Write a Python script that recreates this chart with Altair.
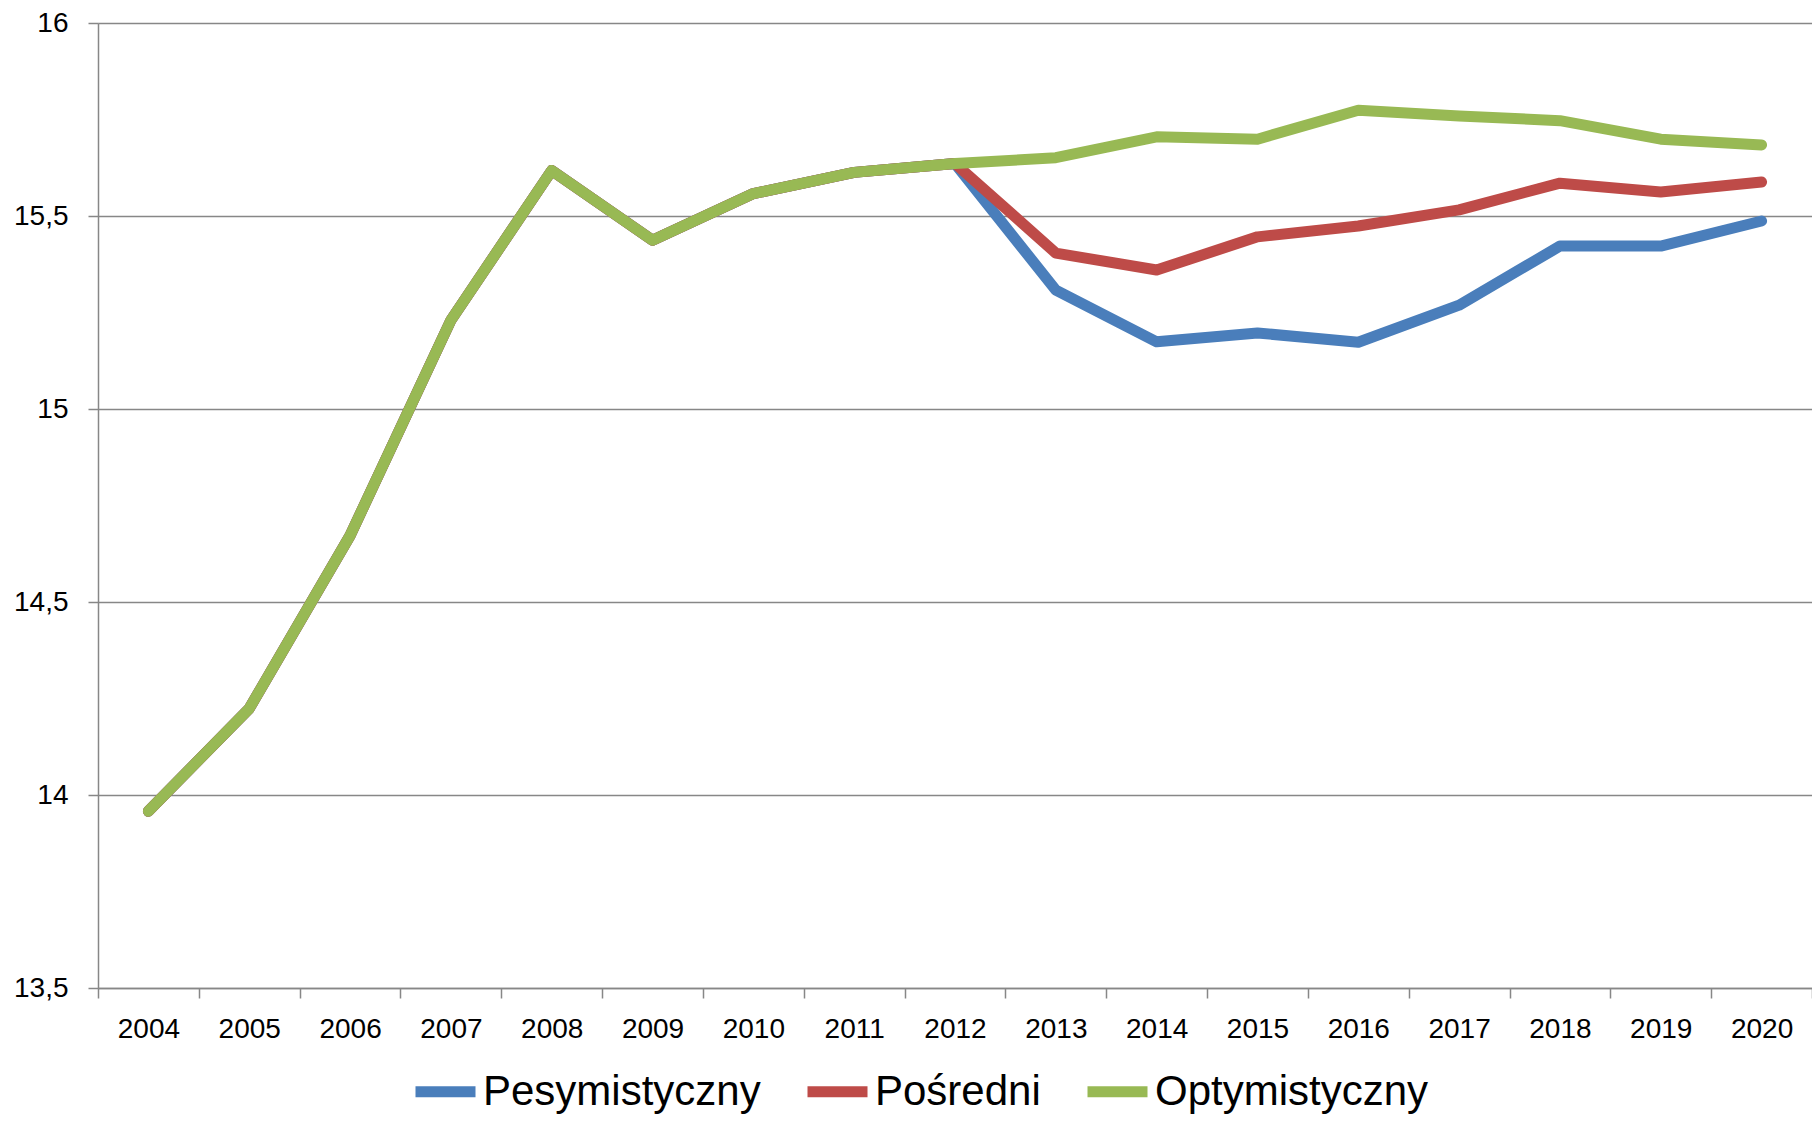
import altair as alt
import pandas as pd

years = [str(y) for y in range(2004, 2021)]
series_names = ["Pesymistyczny", "Pośredni", "Optymistyczny"]
series_colors = ["#4A7EBB", "#BE4B48", "#98B954"]

common = [13.958, 14.224, 14.672, 15.230, 15.618, 15.437, 15.558, 15.613, 15.636]
pesymistyczny = common + [15.308, 15.174, 15.197, 15.173, 15.269, 15.422, 15.422, 15.487]
posredni = common + [15.404, 15.360, 15.446, 15.474, 15.516, 15.585, 15.562, 15.588]
optymistyczny = common + [15.651, 15.705, 15.699, 15.774, 15.759, 15.747, 15.699, 15.684]

y_ticks = [13.5, 14, 14.5, 15, 15.5, 16]

rows = []
for name, vals in zip(series_names, [pesymistyczny, posredni, optymistyczny]):
    for yr, v in zip(years, vals):
        rows.append({"rok": yr, "wartosc": v, "wariant": name})
df = pd.DataFrame(rows)

FONT = "Liberation Sans"
GRID = "#878787"

chart = alt.Chart(df).mark_line(
    strokeWidth=11, strokeCap="round", strokeJoin="round"
).encode(
    x=alt.X(
        "rok:O",
        sort=years,
        bandPosition=0.5,
        scale=alt.Scale(type="band", paddingInner=0, paddingOuter=0),
        axis=alt.Axis(
            title=None, labelAngle=0, tickBand="extent", grid=False,
            domainColor=GRID, domainWidth=1.5, tickColor=GRID, tickWidth=1.5,
            tickSize=10, labelPadding=17, labelFont=FONT, labelFontSize=28,
            labelColor="#000000",
        ),
    ),
    y=alt.Y(
        "wartosc:Q",
        scale=alt.Scale(domain=[13.5, 16], nice=False, zero=False),
        axis=alt.Axis(
            title=None, values=y_ticks, grid=True, gridColor=GRID, gridWidth=1.5,
            domainColor=GRID, domainWidth=1.5, tickColor=GRID, tickWidth=1.5,
            tickSize=10, labelPadding=20, labelFont=FONT, labelFontSize=28,
            labelColor="#000000",
            labelExpr="replace(toString(datum.value), '.', ',')",
        ),
    ),
    color=alt.Color(
        "wariant:N",
        sort=series_names,
        scale=alt.Scale(domain=series_names, range=series_colors),
        legend=alt.Legend(
            title=None, orient="none", direction="horizontal",
            legendX=312, legendY=1033, symbolType="stroke",
            symbolStrokeWidth=11, symbolSize=3600, labelFont=FONT,
            labelFontSize=42, labelColor="#000000", labelOffset=2,
            labelLimit=0, columnPadding=24, padding=0,
        ),
    ),
).properties(
    width=1714,
    height=965,
    autosize=alt.AutoSizeParams(type="none"),
    padding={"left": 90, "top": 15, "right": 0, "bottom": 127},
).configure_view(stroke=None).configure(background="white")

chart.save("out.html", embed_options={"renderer": "svg", "actions": False})
